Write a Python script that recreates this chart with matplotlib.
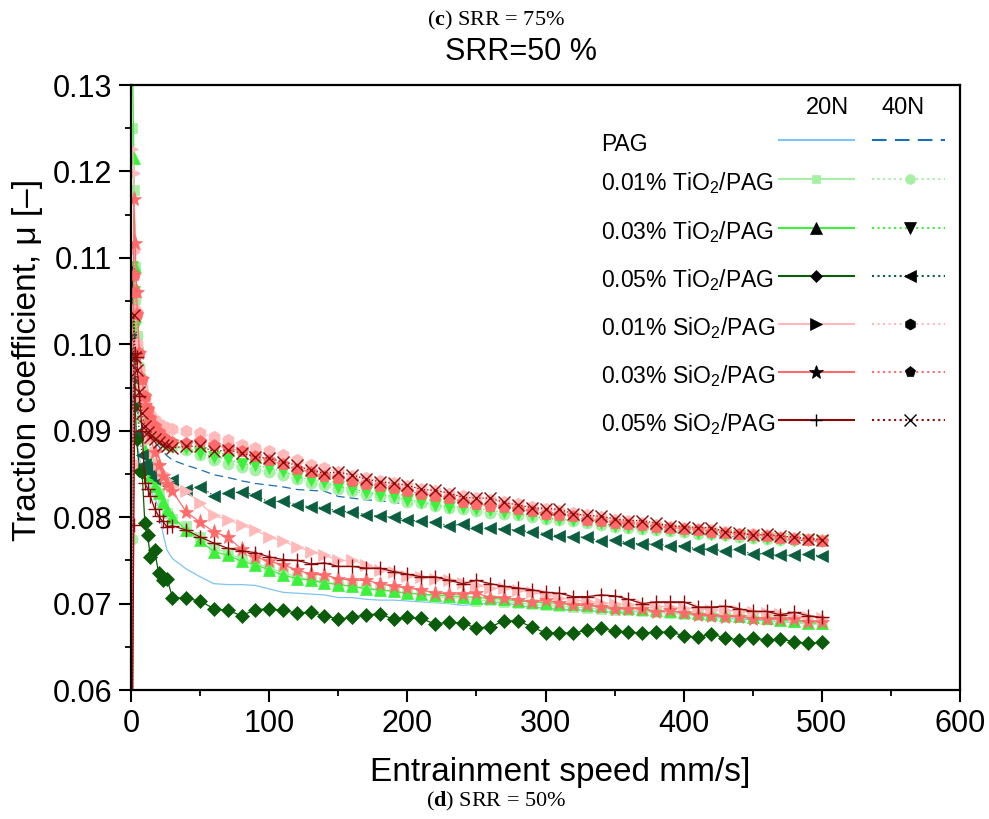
import matplotlib
matplotlib.use("Agg")
import matplotlib.pyplot as plt
from matplotlib.ticker import MultipleLocator, FormatStrFormatter

plt.rcParams["font.family"] = ["Liberation Sans", "DejaVu Sans"]
plt.rcParams["mathtext.fontset"] = "custom"
plt.rcParams["mathtext.rm"] = "Liberation Sans"
plt.rcParams["mathtext.it"] = "Liberation Sans:italic"
plt.rcParams["mathtext.bf"] = "Liberation Serif:bold"

# entrainment speed, mm/s (dense start-up points, then every 10 mm/s)
speed = [1, 2, 3, 4, 6, 8, 10, 12, 14, 17, 20, 23, 26, 30] + list(range(40, 510, 10))

# traction coefficient
pag_20n = [0.0950, 0.0920, 0.0900, 0.0890, 0.0870, 0.0855, 0.0845, 0.0840, 0.0832, 0.0822, 0.0812, 0.0782, 0.0762, 0.0752,
           0.0740, 0.0731, 0.0723, 0.0722, 0.0722, 0.0721, 0.0717, 0.0713, 0.0712, 0.0711, 0.0710, 0.0707, 0.0707, 0.0705,
           0.0704, 0.0704, 0.0703, 0.0702, 0.0701, 0.0700, 0.0698, 0.0699, 0.0701, 0.0701, 0.0698, 0.0696, 0.0695, 0.0693,
           0.0693, 0.0692, 0.0691, 0.0690, 0.0690, 0.0691, 0.0690, 0.0689, 0.0688, 0.0686, 0.0684, 0.0683, 0.0682, 0.0681,
           0.0680, 0.0679, 0.0678, 0.0677, 0.0676]
pag_40n = [0.0990, 0.0960, 0.0940, 0.0930, 0.0915, 0.0905, 0.0898, 0.0893, 0.0890, 0.0886, 0.0882, 0.0876, 0.0871, 0.0866,
           0.0860, 0.0855, 0.0849, 0.0846, 0.0842, 0.0839, 0.0837, 0.0835, 0.0832, 0.0831, 0.0830, 0.0824, 0.0822, 0.0820,
           0.0819, 0.0817, 0.0815, 0.0814, 0.0812, 0.0809, 0.0806, 0.0805, 0.0804, 0.0803, 0.0801, 0.0799, 0.0797, 0.0795,
           0.0794, 0.0793, 0.0791, 0.0788, 0.0787, 0.0786, 0.0785, 0.0783, 0.0781, 0.0780, 0.0779, 0.0778, 0.0777, 0.0776,
           0.0775, 0.0774, 0.0773, 0.0773, 0.0772]
tio2_01_20n = [0.1250, 0.1179, 0.1090, 0.1010, 0.0950, 0.0915, 0.0890, 0.0870, 0.0855, 0.0840, 0.0828, 0.0815, 0.0805, 0.0798,
               0.0790, 0.0777, 0.0765, 0.0758, 0.0752, 0.0747, 0.0741, 0.0736, 0.0731, 0.0728, 0.0725, 0.0722, 0.0720, 0.0718,
               0.0716, 0.0714, 0.0712, 0.0711, 0.0708, 0.0707, 0.0706, 0.0703, 0.0704, 0.0702, 0.0701, 0.0699, 0.0698, 0.0697,
               0.0696, 0.0695, 0.0694, 0.0693, 0.0692, 0.0691, 0.0690, 0.0689, 0.0688, 0.0687, 0.0686, 0.0685, 0.0684, 0.0683,
               0.0682, 0.0681, 0.0679, 0.0677, 0.0676]
tio2_01_40n = [0.0775, 0.1090, 0.1050, 0.1010, 0.0975, 0.0950, 0.0932, 0.0920, 0.0910, 0.0900, 0.0893, 0.0888, 0.0884, 0.0881,
               0.0878, 0.0872, 0.0866, 0.0862, 0.0858, 0.0855, 0.0852, 0.0849, 0.0844, 0.0840, 0.0837, 0.0832, 0.0830, 0.0827,
               0.0824, 0.0822, 0.0818, 0.0816, 0.0813, 0.0811, 0.0809, 0.0807, 0.0805, 0.0804, 0.0802, 0.0800, 0.0798, 0.0797,
               0.0795, 0.0793, 0.0791, 0.0789, 0.0788, 0.0786, 0.0785, 0.0784, 0.0783, 0.0781, 0.0780, 0.0779, 0.0777, 0.0776,
               0.0775, 0.0774, 0.0773, 0.0773, 0.0772]
tio2_03_20n = [0.1350, 0.1215, 0.1090, 0.1000, 0.0940, 0.0900, 0.0878, 0.0862, 0.0848, 0.0836, 0.0828, 0.0818, 0.0808, 0.0800,
               0.0785, 0.0773, 0.0760, 0.0756, 0.0749, 0.0745, 0.0739, 0.0733, 0.0729, 0.0727, 0.0724, 0.0722, 0.0720, 0.0717,
               0.0716, 0.0714, 0.0712, 0.0711, 0.0710, 0.0709, 0.0708, 0.0707, 0.0706, 0.0705, 0.0703, 0.0702, 0.0701, 0.0700,
               0.0699, 0.0698, 0.0697, 0.0696, 0.0695, 0.0694, 0.0692, 0.0691, 0.0690, 0.0689, 0.0688, 0.0687, 0.0686, 0.0685,
               0.0683, 0.0681, 0.0680, 0.0678, 0.0677]
tio2_03_40n = [0.1090, 0.1060, 0.1020, 0.0990, 0.0960, 0.0940, 0.0925, 0.0912, 0.0905, 0.0897, 0.0892, 0.0888, 0.0885, 0.0883,
               0.0880, 0.0874, 0.0870, 0.0867, 0.0862, 0.0860, 0.0857, 0.0853, 0.0847, 0.0843, 0.0841, 0.0835, 0.0833, 0.0829,
               0.0826, 0.0824, 0.0820, 0.0818, 0.0814, 0.0812, 0.0812, 0.0810, 0.0808, 0.0806, 0.0804, 0.0802, 0.0799, 0.0798,
               0.0797, 0.0795, 0.0793, 0.0790, 0.0789, 0.0788, 0.0786, 0.0785, 0.0784, 0.0782, 0.0781, 0.0779, 0.0778, 0.0777,
               0.0776, 0.0775, 0.0774, 0.0773, 0.0772]
tio2_05_20n = [0.1083, 0.0990, 0.0930, 0.0890, 0.0855, 0.0852, 0.0793, 0.0779, 0.0754, 0.0762, 0.0735, 0.0727, 0.0729, 0.0707,
               0.0706, 0.0703, 0.0694, 0.0692, 0.0686, 0.0693, 0.0694, 0.0692, 0.0689, 0.0690, 0.0686, 0.0682, 0.0684, 0.0687,
               0.0688, 0.0682, 0.0684, 0.0683, 0.0676, 0.0679, 0.0677, 0.0672, 0.0673, 0.0680, 0.0680, 0.0673, 0.0666, 0.0666,
               0.0666, 0.0669, 0.0672, 0.0668, 0.0667, 0.0666, 0.0667, 0.0667, 0.0663, 0.0661, 0.0665, 0.0660, 0.0658, 0.0660,
               0.0658, 0.0659, 0.0656, 0.0654, 0.0655]
tio2_05_40n = [0.1009, 0.0985, 0.0960, 0.0936, 0.0898, 0.0872, 0.0862, 0.0858, 0.0852, 0.0847, 0.0843, 0.0840, 0.0839, 0.0843,
               0.0831, 0.0835, 0.0825, 0.0828, 0.0829, 0.0826, 0.0817, 0.0819, 0.0814, 0.0812, 0.0811, 0.0807, 0.0806, 0.0803,
               0.0801, 0.0800, 0.0797, 0.0795, 0.0794, 0.0790, 0.0792, 0.0787, 0.0788, 0.0786, 0.0785, 0.0783, 0.0781, 0.0778,
               0.0777, 0.0777, 0.0772, 0.0774, 0.0770, 0.0769, 0.0769, 0.0767, 0.0767, 0.0763, 0.0763, 0.0761, 0.0763, 0.0757,
               0.0758, 0.0756, 0.0756, 0.0757, 0.0755]
sio2_01_20n = [0.1226, 0.1198, 0.1110, 0.1040, 0.0970, 0.0940, 0.0920, 0.0905, 0.0890, 0.0875, 0.0862, 0.0851, 0.0843, 0.0836,
               0.0830, 0.0816, 0.0802, 0.0797, 0.0791, 0.0785, 0.0777, 0.0772, 0.0766, 0.0760, 0.0756, 0.0750, 0.0750, 0.0745,
               0.0739, 0.0737, 0.0732, 0.0731, 0.0729, 0.0727, 0.0724, 0.0721, 0.0718, 0.0718, 0.0716, 0.0713, 0.0710, 0.0707,
               0.0704, 0.0703, 0.0701, 0.0700, 0.0699, 0.0698, 0.0697, 0.0696, 0.0695, 0.0694, 0.0693, 0.0692, 0.0691, 0.0690,
               0.0689, 0.0688, 0.0686, 0.0685, 0.0683]
sio2_01_40n = [0.0862, 0.1110, 0.1040, 0.1000, 0.0970, 0.0950, 0.0935, 0.0925, 0.0918, 0.0912, 0.0908, 0.0905, 0.0903, 0.0902,
               0.0900, 0.0897, 0.0893, 0.0889, 0.0884, 0.0880, 0.0876, 0.0872, 0.0866, 0.0860, 0.0857, 0.0852, 0.0848, 0.0845,
               0.0842, 0.0839, 0.0836, 0.0833, 0.0830, 0.0827, 0.0825, 0.0822, 0.0820, 0.0817, 0.0815, 0.0812, 0.0810, 0.0807,
               0.0805, 0.0802, 0.0800, 0.0797, 0.0795, 0.0793, 0.0791, 0.0789, 0.0788, 0.0786, 0.0785, 0.0783, 0.0781, 0.0780,
               0.0779, 0.0777, 0.0776, 0.0775, 0.0774]
sio2_03_20n = [0.0550, 0.1168, 0.1117, 0.1060, 0.0990, 0.0960, 0.0930, 0.0910, 0.0895, 0.0875, 0.0860, 0.0848, 0.0838, 0.0830,
               0.0806, 0.0794, 0.0783, 0.0777, 0.0763, 0.0754, 0.0749, 0.0745, 0.0739, 0.0734, 0.0733, 0.0729, 0.0727, 0.0727,
               0.0723, 0.0720, 0.0718, 0.0716, 0.0712, 0.0711, 0.0711, 0.0712, 0.0707, 0.0707, 0.0704, 0.0702, 0.0704, 0.0701,
               0.0698, 0.0698, 0.0696, 0.0694, 0.0694, 0.0694, 0.0690, 0.0692, 0.0689, 0.0687, 0.0686, 0.0685, 0.0685, 0.0682,
               0.0682, 0.0682, 0.0682, 0.0679, 0.0679]
sio2_03_40n = [0.0550, 0.1080, 0.1060, 0.1035, 0.0990, 0.0960, 0.0940, 0.0925, 0.0915, 0.0905, 0.0898, 0.0893, 0.0889, 0.0887,
               0.0886, 0.0888, 0.0884, 0.0880, 0.0876, 0.0871, 0.0866, 0.0861, 0.0856, 0.0852, 0.0848, 0.0845, 0.0842, 0.0838,
               0.0836, 0.0834, 0.0830, 0.0827, 0.0825, 0.0822, 0.0818, 0.0815, 0.0813, 0.0812, 0.0809, 0.0807, 0.0804, 0.0803,
               0.0801, 0.0797, 0.0796, 0.0793, 0.0792, 0.0791, 0.0789, 0.0788, 0.0786, 0.0785, 0.0783, 0.0782, 0.0780, 0.0779,
               0.0778, 0.0776, 0.0775, 0.0773, 0.0772]
sio2_05_20n = [0.0550, 0.0791, 0.0990, 0.0985, 0.0940, 0.0900, 0.0839, 0.0833, 0.0824, 0.0810, 0.0801, 0.0795, 0.0789, 0.0790,
               0.0785, 0.0777, 0.0770, 0.0764, 0.0761, 0.0759, 0.0754, 0.0751, 0.0750, 0.0746, 0.0747, 0.0743, 0.0743, 0.0741,
               0.0741, 0.0737, 0.0734, 0.0731, 0.0731, 0.0727, 0.0723, 0.0727, 0.0723, 0.0720, 0.0718, 0.0716, 0.0713, 0.0712,
               0.0708, 0.0708, 0.0710, 0.0709, 0.0705, 0.0700, 0.0702, 0.0702, 0.0702, 0.0696, 0.0696, 0.0697, 0.0694, 0.0691,
               0.0691, 0.0687, 0.0690, 0.0686, 0.0684]
sio2_05_40n = [0.0550, 0.1034, 0.0985, 0.0970, 0.0945, 0.0920, 0.0905, 0.0898, 0.0893, 0.0890, 0.0887, 0.0884, 0.0882, 0.0880,
               0.0882, 0.0882, 0.0876, 0.0878, 0.0874, 0.0870, 0.0868, 0.0864, 0.0860, 0.0854, 0.0851, 0.0852, 0.0849, 0.0844,
               0.0841, 0.0839, 0.0837, 0.0832, 0.0831, 0.0828, 0.0823, 0.0822, 0.0822, 0.0817, 0.0814, 0.0811, 0.0810, 0.0809,
               0.0804, 0.0802, 0.0801, 0.0798, 0.0796, 0.0796, 0.0793, 0.0790, 0.0789, 0.0788, 0.0788, 0.0783, 0.0782, 0.0779,
               0.0780, 0.0778, 0.0777, 0.0775, 0.0774]

# series: (values, colour, marker, linestyle, legend marker colour)
series = [
    (pag_20n, "#7fc4f5", None, "-", None),
    (pag_40n, "#1a6fb5", None, (0, (7, 4)), None),
    (tio2_01_20n, "#a6f0a6", "s", "-", "#a6f0a6"),
    (tio2_01_40n, "#a6f0a6", "o", ":", "#a6f0a6"),
    (tio2_03_20n, "#3cf03c", "^", "-", "black"),
    (tio2_03_40n, "#3cf03c", "v", ":", "black"),
    (tio2_05_20n, "#0a5c0a", "D", "-", "black"),
    (tio2_05_40n, "#0b5e3f", "<", ":", "black"),
    (sio2_01_20n, "#ffb9b9", ">", "-", "black"),
    (sio2_01_40n, "#ffb9b9", "h", ":", "black"),
    (sio2_03_20n, "#ff6b6b", "*", "-", "black"),
    (sio2_03_40n, "#ff6b6b", "p", ":", "black"),
    (sio2_05_20n, "#8b0a0a", "+", "-", "black"),
    (sio2_05_40n, "#8b0a0a", "x", ":", "black"),
]
row_labels = ["PAG", "0.01% TiO$_2$/PAG", "0.03% TiO$_2$/PAG", "0.05% TiO$_2$/PAG",
              "0.01% SiO$_2$/PAG", "0.03% SiO$_2$/PAG", "0.05% SiO$_2$/PAG"]

marker_size = {"s": 7, "o": 8, "^": 9, "v": 9, "D": 7, "<": 9, ">": 9,
               "h": 9, "*": 11, "p": 9, "+": 10, "x": 9}

fig = plt.figure(figsize=(9.89, 8.19), dpi=100)
ax = fig.add_axes([0.1325, 0.1575, 0.8382, 0.7387])

for vals, color, mk, ls, _ in series:
    ax.plot(speed, vals, color=color, linestyle=ls, linewidth=0.9,
            marker=mk, markersize=marker_size.get(mk, 8),
            markerfacecolor=color, markeredgecolor=color,
            markeredgewidth=1.0 if mk in ("+", "x") else 0.5)

ax.set_xlim(0, 600)
ax.set_ylim(0.06, 0.13)
ax.xaxis.set_major_locator(MultipleLocator(100))
ax.xaxis.set_minor_locator(MultipleLocator(50))
ax.yaxis.set_major_locator(MultipleLocator(0.01))
ax.yaxis.set_minor_locator(MultipleLocator(0.005))
ax.yaxis.set_major_formatter(FormatStrFormatter("%.2f"))
ax.tick_params(which="major", direction="out", length=8.5, width=1.5, labelsize=22, pad=5)
ax.tick_params(which="minor", direction="out", length=4, width=1.3)
for sp in ax.spines.values():
    sp.set_linewidth(1.6)

# legend laid out as a 20N / 40N table
row_y = [0.909, 0.845, 0.764, 0.684, 0.605, 0.526, 0.446]
ax.text(0.840, 0.952, "20N", transform=ax.transAxes, ha="center", va="baseline", fontsize=17)
ax.text(0.931, 0.952, "40N", transform=ax.transAxes, ha="center", va="baseline", fontsize=17)
for i, label in enumerate(row_labels):
    y = row_y[i]
    ax.text(0.567, y - 0.018, label, transform=ax.transAxes, ha="left", va="baseline", fontsize=16.5)
    for (vals, color, mk, ls, mcol), (x0, x1, xm) in zip(series[2 * i:2 * i + 2],
                                                         [(0.782, 0.872, 0.826), (0.894, 0.982, 0.940)]):
        ax.plot([x0, x1], [y, y], color=color, linestyle=ls, linewidth=1.5,
                transform=ax.transAxes, clip_on=False)
        if mk is not None:
            ax.plot([xm], [y], marker=mk, markersize=marker_size[mk] - 1, color=mcol,
                    markeredgewidth=1.0 if mk in ("+", "x") else 0.5,
                    transform=ax.transAxes, clip_on=False)

fig.text(0.527, 1 - 52 / 819, "SRR=50 %", ha="center", va="center", fontsize=22)
fig.text(28 / 989, 1 - 360 / 819, "Traction coefficient, \u03bc [\u2013]", rotation=90,
         ha="center", va="center", fontsize=24)
fig.text(560 / 989, 1 - 773 / 819, "Entrainment speed mm/s]", ha="center", va="center", fontsize=24)

fig.text(0.5015, 1 - 20 / 819, r"($\mathbf{c}$) SRR = 75%", ha="center", va="center",
         fontsize=16, family="Liberation Serif")
fig.text(0.5015, 1 - 801 / 819, r"($\mathbf{d}$) SRR = 50%", ha="center", va="center",
         fontsize=16, family="Liberation Serif")

fig.savefig("out.png", dpi=100)
